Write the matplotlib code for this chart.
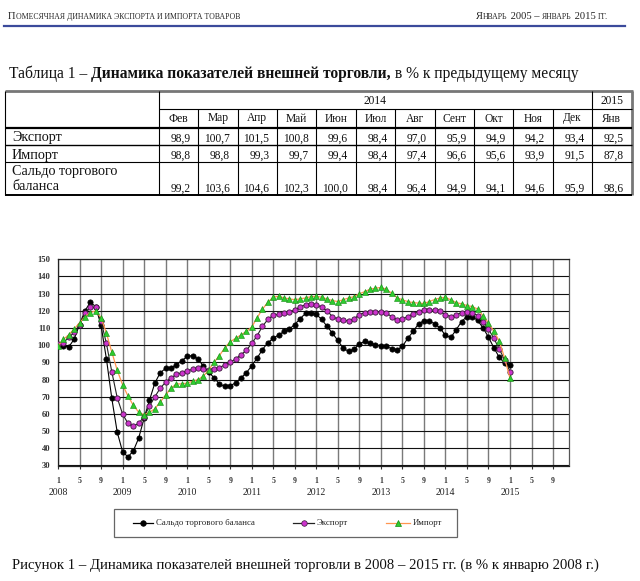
import matplotlib
matplotlib.use("Agg")
import matplotlib.pyplot as plt
from matplotlib.lines import Line2D
import numpy as np

plt.rcParams['font.family'] = ['Liberation Serif', 'DejaVu Serif']

# ---------------- data ----------------
tbl_months = ['Фев', 'Мар', 'Апр', 'Май', 'Июн', 'Июл', 'Авг', 'Сент', 'Окт', 'Ноя', 'Дек', 'Янв']
tbl_export = [98.9, 100.7, 101.5, 100.8, 99.6, 98.4, 97.0, 95.9, 94.9, 94.2, 93.4, 92.5]
tbl_import = [98.8, 98.8, 99.3, 99.7, 99.4, 98.4, 97.4, 96.6, 95.6, 93.9, 91.5, 87.8]
tbl_saldo = [99.2, 103.6, 104.6, 102.3, 100.0, 98.4, 96.4, 94.9, 94.1, 94.6, 95.9, 98.6]
row_labels = ['Экспорт', 'Импорт', 'Сальдо торгового\nбаланса']

# monthly series, Jan 2008 .. Jan 2015 (% to Jan 2008)
saldo = [100, 99.5, 99, 103.5, 112, 120, 125, 122.5, 111.5, 92, 69, 49.5,
         38, 35, 38.5, 46, 57.5, 68, 78, 84, 86.5, 87, 88.5, 91,
         93.5, 94, 92, 88, 84.5, 81, 77.5, 76, 76.5, 78, 81, 84,
         88, 92.5, 97.5, 101.5, 104, 106, 108, 109.5, 112, 115.5, 118.5, 119,
         118, 115, 111, 107, 102.8, 98.3, 96.4, 97.7, 100.7, 102.2, 101.2, 100.3,
         99.7, 99.3, 98, 97.4, 99.3, 104, 108, 112.5, 114.2, 114, 112.5, 110,
         105.7, 104.5, 109, 113.8, 116.7, 116.7, 114.4, 110, 104.7, 98.5, 93, 89.5,
         88.5]
export = [100.5, 101.5, 104.5, 107.5, 112, 118.5, 122, 122, 114, 101, 84.5, 69.5,
          60, 54.5, 53, 54.5, 58.5, 64.5, 70, 75, 78.5, 81, 83, 84,
          85, 86, 86.5, 86, 85.5, 86, 87, 88.5, 90, 92, 94.5, 97,
          101, 105.5, 111, 115, 117.5, 118, 119, 119.5, 120.5, 122.3, 123.5, 124.2,
          123.5, 122.2, 120, 116.7, 115.2, 114.4, 114.2, 115.4, 117.7, 119, 119.4, 119.4,
          119.4, 118.7, 116.7, 114.8, 115.2, 116.7, 118.3, 119.6, 120.6, 120.6, 120.3, 119.8,
          117.7, 116.7, 117.7, 119, 119.6, 119, 117.1, 113.8, 109.3, 104, 97.8, 91.5,
          84.7]
imports = [99.5, 103.5, 106, 109.5, 113, 116.5, 119, 120, 116, 107, 96, 85.5,
           77, 70.5, 65, 61, 59.5, 61, 63, 67, 71, 75, 77.5, 77.5,
           78, 79, 80, 82, 85.5, 90, 94, 98.5, 102, 104, 106, 108,
           110.5, 116, 121, 125, 128, 128.5, 127.5, 127, 126.5, 127, 127.5, 128.3,
           128.4, 128, 126.8, 126, 125.4, 126.5, 127.5, 128.3, 129.9, 131.2, 132.6, 133.2,
           133.6, 132.6, 130.3, 127.7, 126.4, 125.4, 124.8, 124.5, 124.3, 125.4, 126.6, 127.5,
           127.9, 126.4, 124.8, 124.1, 123.1, 122.5, 121, 117, 113, 108, 102.5, 92.5,
           80.8]
years = [2008, 2009, 2010, 2011, 2012, 2013, 2014, 2015]
month_tick_labels = ['1', '5', '9']
series_names = ['Сальдо торгового баланса', 'Экспорт', 'Импорт']

# ---------------- figure ----------------
W, H = 640, 581
fig = plt.figure(figsize=(W / 100, H / 100), dpi=100)
bg = fig.add_axes([0, 0, 1, 1])
bg.set_xlim(0, W)
bg.set_ylim(H, 0)
bg.axis('off')
renderer = fig.canvas.get_renderer()


def chain(pieces, x, y, align='left', color='#222222'):
    arts = []
    widths = []
    for s, size, weight in pieces:
        t = bg.text(0, y, s, fontsize=size, fontweight=weight, va='baseline',
                    ha='left', color=color)
        widths.append(t.get_window_extent(renderer).width)
        arts.append(t)
    total = sum(widths)
    cur = x if align == 'left' else x - total
    for t, w in zip(arts, widths):
        t.set_x(cur)
        cur += w


# header
big, small = 7.6, 5.6
chain([('П', big, 'normal'), ('ОМЕСЯЧНАЯ ДИНАМИКА ЭКСПОРТА И ИМПОРТА ТОВАРОВ', small, 'normal')],
      8, 19)
chain([('Я', big, 'normal'), ('НВАРЬ', small, 'normal'), (' 2005 – ', big, 'normal'),
       ('ЯНВАРЬ', small, 'normal'), (' 2015 ', big, 'normal'), ('ГГ.', small, 'normal')],
      608, 19, align='right')
bg.add_line(Line2D([4, 625], [26, 26], color='#3b4a9b', lw=1.6))

# table title
chain([('Таблица 1 – ', 11.2, 'normal'),
       ('Динамика показателей внешней торговли,', 11.2, 'bold'),
       (' в % к предыдущему месяцу', 11.2, 'normal')], 9, 78, color='#111111')

# table
tx0, tx1 = 5, 631.5
tc0 = 158.7
ncol = len(tbl_months)
cw = (tx1 - tc0) / ncol
col_edges = [tc0 + k * cw for k in range(ncol + 1)]
ty_top, ty_r1, ty_r2, ty_r3, ty_r4, ty_bot = 91, 109, 127.7, 145, 161.7, 195

def hl(y, xa, xb, lw=0.8, c='black'):
    bg.add_line(Line2D([xa, xb], [y, y], color=c, lw=lw, solid_capstyle='butt'))

def vl(x, ya, yb, lw=0.8, c='black'):
    bg.add_line(Line2D([x, x], [ya, yb], color=c, lw=lw, solid_capstyle='butt'))

hl(ty_top, tx0, tx1 + 1, lw=2.0, c='#777777')
vl(tx1, ty_top, ty_bot, lw=2.0, c='#777777')
vl(tx0, ty_top, ty_bot, lw=0.8)
hl(ty_bot, tx0, tx1, lw=1.4)
hl(ty_r1, tc0, tx1, lw=0.8)
hl(ty_r2, tx0, tx1, lw=1.6)
hl(ty_r3, tx0, tx1, lw=1.0)
hl(ty_r4, tx0, tx1, lw=0.8)
vl(tc0, ty_top, ty_bot, lw=0.8)
vl(col_edges[-2], ty_top, ty_bot, lw=0.8)
for xe in col_edges[1:-2]:
    vl(xe, ty_r1, ty_bot, lw=0.8)

bg.text((tc0 + col_edges[-2]) / 2, 100.5, '2014', fontsize=8.3, ha='center', va='center', color='#111111')
bg.text((col_edges[-2] + col_edges[-1]) / 2, 100.5, '2015', fontsize=8.3, ha='center', va='center', color='#111111')
for k, m in enumerate(tbl_months):
    bg.text((col_edges[k] + col_edges[k + 1]) / 2, 118.5, m, fontsize=8.3, ha='center',
            va='center', color='#111111')

row_vals = [tbl_export, tbl_import, tbl_saldo]
row_y = [138.5, 155.8, 189.0]
label_y = [137, 155.5, 179.5]
for r, (lab, vals) in enumerate(zip(row_labels, row_vals)):
    bg.text(12, label_y[r], lab, fontsize=10.2, ha='left', va='center', color='#111111',
            linespacing=1.2)
    for k, v in enumerate(vals):
        bg.text(col_edges[k + 1] - 7.5, row_y[r], f"{v:.1f}".replace('.', ','),
                fontsize=8.3, ha='right', va='center', color='#111111')

# ---------------- chart ----------------
pl, pr, pt, pb = 58, 568.5, 259.3, 465.5
ax = fig.add_axes([pl / W, 1 - pb / H, (pr - pl) / W, (pb - pt) / H])
px_per_month = 5.381
x = np.arange(len(saldo))
ax.plot(x, saldo, color='black', lw=0.8, marker='o', ms=3.8, mfc='black', mec='black',
        mew=0.5, zorder=3)
ax.plot(x, export, color='#222222', lw=0.8, marker='o', ms=3.8, mfc='#cc33cc', mec='#3a1a3a',
        mew=0.6, zorder=4)
ax.plot(x, imports, color='#ff9650', lw=0.9, marker='^', ms=4.1, mfc='#2ecc2e', mec='#128a12',
        mew=0.4, zorder=5)

ax.set_xlim(0, (pr - pl) / px_per_month)
ax.set_ylim(30, 150)
ax.set_yticks(np.arange(30, 151, 10))
xt = np.arange(0, 93, 4)
ax.set_xticks(xt)
ax.set_xticklabels([month_tick_labels[(i // 4) % 3] for i in xt])
ax.grid(axis='x', color='#7a7a7a', lw=1.0)
ax.grid(axis='y', color='#111111', lw=0.8)
ax.set_axisbelow(True)
for s in ax.spines.values():
    s.set_color('#222222')
    s.set_linewidth(0.9)
ax.spines['right'].set_color('#555555')
ax.tick_params(axis='y', length=0, pad=5.5, labelsize=6.2, colors='#333333')
ax.tick_params(axis='x', length=2.5, width=0.8, pad=6, labelsize=5.6, colors='#333333')
for lab in ax.get_yticklabels():
    lab.set_fontweight('bold')
for lab in ax.get_xticklabels():
    lab.set_fontweight('bold')
for k, yv in enumerate(years):
    ax.annotate(str(yv), xy=(12 * k, 0), xycoords=('data', 'axes fraction'),
                xytext=(0, -27 * 0.72), textcoords='offset points', ha='center',
                va='center', fontsize=7, color='#222222')

# legend (manual)
lx0, lx1, ly0, ly1 = 114, 457, 509, 537
bg.add_patch(plt.Rectangle((lx0, ly0), lx1 - lx0, ly1 - ly0, fill=False, ec='#666666', lw=0.9))
ly = (ly0 + ly1) / 2
leg_specs = [
    (133, 153, dict(color='black', marker='o', mfc='black', mec='black')),
    (293, 314, dict(color='#222222', marker='o', mfc='#cc33cc', mec='#3a1a3a')),
    (386, 410, dict(color='#ff9650', marker='^', mfc='#2ecc2e', mec='#128a12')),
]
for (xa, xb, st), name in zip(leg_specs, series_names):
    bg.add_line(Line2D([xa, xb], [ly, ly], lw=0.9, color=st['color']))
    bg.add_line(Line2D([(xa + xb) / 2], [ly], marker=st['marker'], ms=4.0, mfc=st['mfc'],
                       mec=st['mec'], mew=0.5, lw=0))
    bg.text(xb + 3, ly, name, fontsize=6.3, ha='left', va='center', color='#222222')

# caption
bg.text(12, 569, 'Рисунок 1 – Динамика показателей внешней торговли в 2008 – 2015 гг. (в % к январю 2008 г.)',
        fontsize=10.6, ha='left', va='baseline', color='#111111')

fig.savefig('out.png', dpi=100)
